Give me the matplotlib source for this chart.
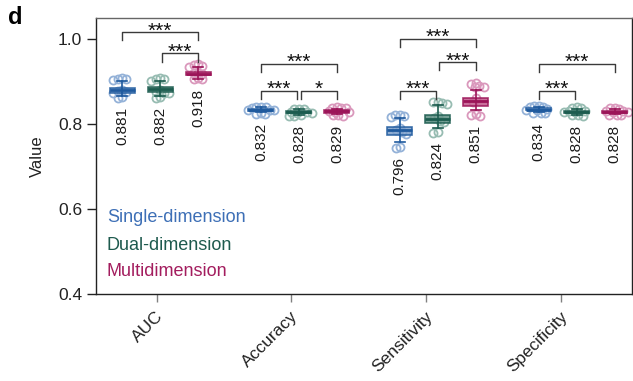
import numpy as np
import matplotlib
matplotlib.use("Agg")
import matplotlib.pyplot as plt
from matplotlib.transforms import ScaledTranslation

plt.rcParams['font.family'] = ['Liberation Sans', 'DejaVu Sans']

# ---------------- data ----------------
metrics = ['AUC', 'Accuracy', 'Sensitivity', 'Specificity']
models = ['Single-dimension', 'Dual-dimension', 'Multidimension']

# labelled summary values
single_vals = [0.881, 0.832, 0.796, 0.834]
dual_vals = [0.882, 0.828, 0.824, 0.828]
multi_vals = [0.918, 0.829, 0.851, 0.828]

# individual points (per metric)
single_points = [
    [0.909, 0.907, 0.905, 0.903, 0.879, 0.877, 0.875, 0.873, 0.864, 0.862],
    [0.840, 0.839, 0.839, 0.838, 0.834, 0.833, 0.832, 0.825, 0.824, 0.823],
    [0.822, 0.821, 0.819, 0.817, 0.790, 0.785, 0.780, 0.776, 0.747, 0.743],
    [0.843, 0.842, 0.841, 0.840, 0.835, 0.834, 0.833, 0.827, 0.826, 0.825],
]
dual_points = [
    [0.909, 0.907, 0.905, 0.902, 0.879, 0.876, 0.874, 0.872, 0.864, 0.862],
    [0.836, 0.835, 0.835, 0.829, 0.828, 0.827, 0.826, 0.820, 0.819, 0.818],
    [0.852, 0.851, 0.849, 0.848, 0.818, 0.813, 0.808, 0.804, 0.782, 0.779],
    [0.839, 0.838, 0.837, 0.831, 0.830, 0.829, 0.828, 0.821, 0.820, 0.819],
]
multi_points = [
    [0.941, 0.939, 0.937, 0.935, 0.921, 0.919, 0.917, 0.909, 0.907, 0.905],
    [0.839, 0.838, 0.837, 0.837, 0.830, 0.829, 0.828, 0.821, 0.820, 0.819],
    [0.897, 0.895, 0.889, 0.888, 0.886, 0.860, 0.852, 0.823, 0.821, 0.819],
    [0.838, 0.837, 0.836, 0.831, 0.830, 0.829, 0.828, 0.822, 0.821, 0.820],
]

# box statistics: [whislo, q1, median, q3, whishi]
single_box = [
    [0.866, 0.874, 0.881, 0.885, 0.901],
    [0.828, 0.831, 0.833, 0.835, 0.839],
    [0.757, 0.775, 0.787, 0.794, 0.814],
    [0.829, 0.832, 0.834, 0.837, 0.841],
]
dual_box = [
    [0.866, 0.875, 0.882, 0.886, 0.901],
    [0.822, 0.826, 0.828, 0.831, 0.835],
    [0.790, 0.803, 0.812, 0.821, 0.845],
    [0.822, 0.826, 0.829, 0.831, 0.835],
]
multi_box = [
    [0.906, 0.915, 0.918, 0.923, 0.935],
    [0.824, 0.827, 0.830, 0.832, 0.836],
    [0.833, 0.843, 0.854, 0.862, 0.880],
    [0.823, 0.826, 0.829, 0.831, 0.835],
]

# significance brackets: (metric, model a, model b, bracket height, label)
brackets = [
    (0, 0, 2, 1.016, '***'),
    (0, 1, 2, 0.966, '***'),
    (1, 0, 2, 0.941, '***'),
    (1, 0, 1, 0.878, '***'),
    (1, 1, 2, 0.878, '*'),
    (2, 0, 2, 1.000, '***'),
    (2, 1, 2, 0.945, '***'),
    (2, 0, 1, 0.878, '***'),
    (3, 0, 2, 0.941, '***'),
    (3, 0, 1, 0.878, '***'),
]

# ---------------- style ----------------
dark_cols = ['#1f5a9e', '#1c5c4f', '#9b1458']
fill_cols = ['#7b9fcb', '#5f8f84', '#c0568a']
pt_cols = ['#94b2d8', '#97bcb2', '#da98bc']
legend_cols = ['#3d6fb6', '#1e5a4e', '#a31d5e']

all_vals = [single_vals, dual_vals, multi_vals]
all_points = [single_points, dual_points, multi_points]
all_box = [single_box, dual_box, multi_box]

W, H = 633, 381
fig = plt.figure(figsize=(W / 100, H / 100), dpi=100)
ax = fig.add_axes([96 / W, 1 - 294 / H, (632 - 96) / W, 276 / H])
ax.set_xlim(-0.461, 3.398)
ax.set_ylim(0.4, 1.0494)

offsets = [-0.2736, 0.0, 0.2736]
box_w = 0.18
tick_pos = [i * 0.97 - 0.024 for i in range(len(metrics))]


def swarm(center, values, d=4.6):
    tr = ax.transData
    ypx = tr.transform(np.column_stack([np.full(len(values), center), values]))[:, 1]
    x0 = tr.transform((center, 0.5))[0]
    x1 = tr.transform((center + 1, 0.5))[0]
    ppu = x1 - x0
    placed = []
    order = np.argsort(-np.asarray(values))
    xs = np.zeros(len(values))
    for i in order:
        y = ypx[i]
        cands = [0.0]
        for (px, py) in placed:
            dy = y - py
            if abs(dy) < d:
                dx = np.sqrt(d * d - dy * dy)
                cands += [px + dx, px - dx]
        cands = sorted(cands, key=lambda c: (abs(c), c))
        for c in cands:
            ok = all((c - px) ** 2 + (y - py) ** 2 >= d * d - 1e-6 for px, py in placed)
            if ok:
                break
        placed.append((c, y))
        xs[i] = center + c / ppu
    return xs


for m in range(3):
    pos = [k + offsets[m] for k in range(len(metrics))]
    stats = []
    for k in range(len(metrics)):
        lo, q1, med, q3, hi = all_box[m][k]
        stats.append(dict(whislo=lo, q1=q1, med=med, q3=q3, whishi=hi, fliers=[]))
    # points
    for k in range(len(metrics)):
        xs = swarm(pos[k], all_points[m][k])
        ax.plot(xs, all_points[m][k], 'o', ms=5.8, mfc='none', mec=pt_cols[m],
                mew=1.3, zorder=2, clip_on=False)
    ax.bxp(stats, positions=pos, widths=box_w, patch_artist=True, showfliers=False,
           capwidths=0.075, manage_ticks=False,
           boxprops=dict(facecolor=fill_cols[m], edgecolor=dark_cols[m], lw=1.2, alpha=0.85, zorder=3),
           medianprops=dict(color=dark_cols[m], lw=2.0, zorder=4),
           whiskerprops=dict(color=dark_cols[m], lw=1.2, zorder=3),
           capprops=dict(color=dark_cols[m], lw=1.2, zorder=3))
    q1s = [b[1] for b in all_box[m]]
    q3s = [b[3] for b in all_box[m]]
    ax.vlines(pos, q1s, q3s, color=dark_cols[m], lw=1.1, zorder=4)
    # value labels
    for k in range(len(metrics)):
        ymin = min(min(all_points[m][k]), all_box[m][k][0])
        ax.annotate(f"{all_vals[m][k]:.3f}", xy=(pos[k], ymin), xytext=(0, -6.5),
                    textcoords='offset points', rotation=90, ha='center', va='top',
                    fontsize=11, color='#1a1a1a')

# brackets
leg = 0.019
for (k, a, b, top, lab) in brackets:
    xa = k + offsets[a] + (0.012 if a == 1 else 0)
    xb = k + offsets[b] - (0.012 if b == 1 else 0)
    ax.plot([xa, xa, xb, xb], [top - leg, top, top, top - leg], color='#3a3a3a',
            lw=1.0, zorder=5, clip_on=False)
    ax.annotate(lab, xy=((xa + xb) / 2, top), xytext=(0, -3), textcoords='offset points',
                ha='center', va='baseline', fontsize=15, color='#111111')

# legend as coloured text
leg_y = [0.276, 0.176, 0.080]
for m in range(3):
    ax.text(0.02, leg_y[m], models[m], transform=ax.transAxes, color=legend_cols[m],
            fontsize=13, va='center', ha='left')

# axes styling
ax.set_yticks([0.4, 0.6, 0.8, 1.0])
ax.set_yticklabels(['0.4', '0.6', '0.8', '1.0'])
ax.tick_params(axis='y', length=6.5, width=1.0, pad=3.5, labelsize=12.5, color='#222222', labelcolor='#222222')
ax.set_xticks(tick_pos)
ax.set_xticklabels(metrics, rotation=45, ha='right', va='center', rotation_mode='anchor')
ax.tick_params(axis='x', length=5.5, width=1.0, pad=9, labelsize=12.5, color='#808080', labelcolor='#222222')
shift = ScaledTranslation(4 / 100, 0, fig.dpi_scale_trans)
for lbl in ax.get_xticklabels():
    lbl.set_transform(lbl.get_transform() + shift)
for s in ['left', 'top', 'bottom', 'right']:
    ax.spines[s].set_linewidth(1.0)
    ax.spines[s].set_color('#222222')
ax.spines['top'].set_color('#666666')
ax.set_ylabel('Value', fontsize=12, labelpad=9, color='#222222')

fig.text(0.012, 0.985, 'd', fontsize=17, fontweight='bold', va='top', ha='left')

fig.savefig('out.png', dpi=100)
